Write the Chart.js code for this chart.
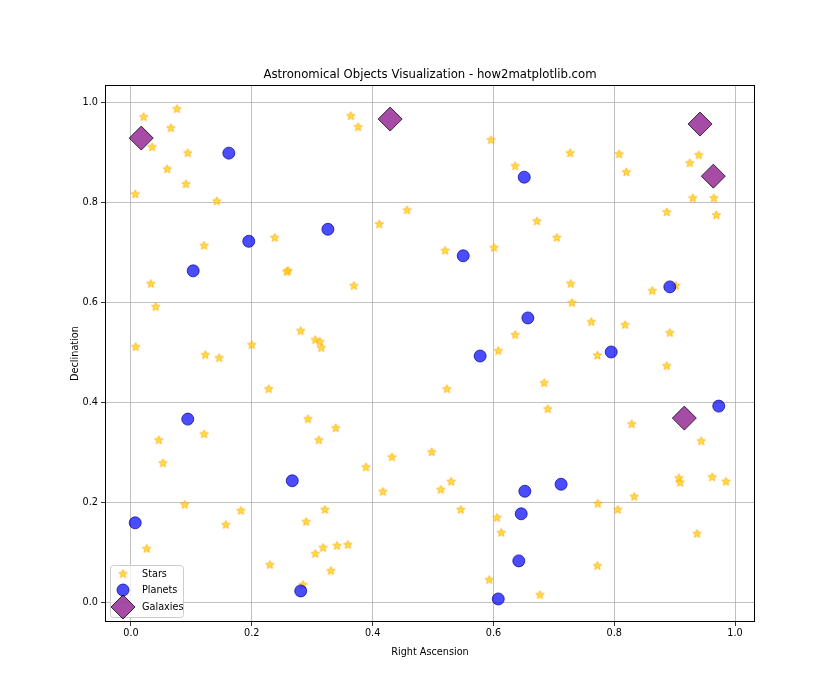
<!DOCTYPE html>
<html>
<head>
<meta charset="utf-8">
<script src="https://cdn.jsdelivr.net/npm/chart.js@4"></script>
<style>
  body { margin: 0; background: #fff; }
  #wrap { width: 840px; height: 700px; }
</style>
</head>
<body>
<div id="wrap"><canvas id="skyChart" width="840" height="700"></canvas></div>
<script>
// data
let starRA = [0.021,0.076,0.035,0.066,0.094,0.007,0.060,0.091,0.142,0.121,0.238,0.033,0.041,0.260,0.258,0.008,0.123,0.146,0.200,0.281,
  0.305,0.313,0.315,0.228,0.046,0.053,0.121,0.293,0.311,0.339,0.089,0.182,0.157,0.290,0.321,0.026,0.230,0.305,0.318,0.341,
  0.359,0.331,0.285,0.364,0.376,0.411,0.457,0.369,0.389,0.417,0.432,0.498,0.513,0.530,0.546,0.523,0.520,0.596,0.601,0.636,
  0.672,0.705,0.727,0.608,0.636,0.684,0.690,0.728,0.730,0.762,0.772,0.606,0.613,0.593,0.677,0.772,0.773,0.806,0.833,0.829,
  0.808,0.820,0.818,0.863,0.902,0.887,0.925,0.940,0.930,0.965,0.969,0.892,0.887,0.944,0.907,0.909,0.962,0.985,0.937]
let starDec = [0.970,0.986,0.910,0.948,0.898,0.816,0.866,0.836,0.802,0.713,0.729,0.637,0.591,0.663,0.661,0.511,0.495,0.489,0.515,0.543,
  0.525,0.521,0.509,0.427,0.325,0.279,0.337,0.367,0.325,0.349,0.196,0.184,0.156,0.162,0.186,0.108,0.076,0.098,0.110,0.114,
  0.116,0.064,0.036,0.972,0.950,0.756,0.784,0.633,0.271,0.222,0.291,0.301,0.226,0.242,0.186,0.427,0.703,0.924,0.709,0.872,
  0.762,0.729,0.898,0.503,0.535,0.439,0.387,0.637,0.599,0.561,0.494,0.170,0.140,0.046,0.016,0.074,0.198,0.186,0.212,0.357,
  0.896,0.860,0.555,0.623,0.633,0.780,0.878,0.894,0.808,0.808,0.774,0.539,0.473,0.323,0.249,0.240,0.251,0.242,0.138]

let planetRA = [0.162,0.195,0.103,0.326,0.550,0.651,0.657,0.578,0.795,0.892,0.973,0.712,0.652,0.646,0.642,0.608,0.094,0.267,0.007,0.281]
let planetDec = [0.898,0.722,0.663,0.746,0.693,0.850,0.569,0.493,0.501,0.631,0.393,0.237,0.223,0.178,0.084,0.008,0.367,0.244,0.160,0.024]

let galaxyRA = [0.017,0.429,0.942,0.964,0.916]
let galaxyDec = [0.928,0.966,0.956,0.852,0.369]

let tickValues = [0, 0.2, 0.4, 0.6, 0.8, 1.0]

function toPoints(xs, ys) {
  return xs.map((x, i) => ({x: x, y: ys[i]}))
}

// filled five point star, like matplotlib's "*"
function makeStar(size) {
  let c = document.createElement("canvas")
  c.width = size
  c.height = size
  let ctx = c.getContext("2d")
  let cx = size / 2, cy = size / 2, outer = size / 2 - 1, inner = outer * 0.42
  ctx.beginPath()
  for (let i = 0; i < 10; i++) {
    let r = i % 2 === 0 ? outer : inner
    let a = -Math.PI / 2 + i * Math.PI / 5
    ctx.lineTo(cx + r * Math.cos(a), cy + r * Math.sin(a))
  }
  ctx.closePath()
  ctx.fillStyle = "rgba(255,215,0,0.75)"
  ctx.fill()
  ctx.lineWidth = 0.8
  ctx.strokeStyle = "rgba(255,165,0,0.9)"
  ctx.stroke()
  return c
}
let starImg = makeStar(11)

let font = "'DejaVu Sans', sans-serif"

let framePlugin = {
  id: "frame",
  afterDraw(chart) {
    let ctx = chart.ctx
    let a = chart.chartArea
    ctx.save()
    // box round the axes
    ctx.strokeStyle = "#000"
    ctx.lineWidth = 1
    ctx.strokeRect(a.left + 0.5, a.top + 0.5, a.right - a.left - 1, a.bottom - a.top - 1)

    // title and axis labels
    ctx.fillStyle = "#000"
    ctx.font = "11.7px " + font
    ctx.textAlign = "center"
    ctx.textBaseline = "alphabetic"
    ctx.fillText("Astronomical Objects Visualization - how2matplotlib.com", (a.left + a.right) / 2, 78)

    ctx.font = "9.7px " + font
    ctx.textBaseline = "middle"
    ctx.fillText("Right Ascension", (a.left + a.right) / 2, 652)
    ctx.save()
    ctx.translate(75, (a.top + a.bottom) / 2)
    ctx.rotate(-Math.PI / 2)
    ctx.fillText("Declination", 0, 0)
    ctx.restore()

    // legend, lower left inside the axes
    let lx = a.left + 5, ly = a.bottom - 57, lw = 73, lh = 52
    ctx.fillStyle = "rgba(255,255,255,0.8)"
    ctx.strokeStyle = "#cccccc"
    ctx.beginPath()
    ctx.roundRect(lx + 0.5, ly + 0.5, lw, lh, 3)
    ctx.fill()
    ctx.stroke()

    let mx = lx + 13
    ctx.drawImage(starImg, mx - 5.5, ly + 9 - 5.5)

    ctx.beginPath()
    ctx.arc(mx, ly + 25, 6, 0, Math.PI * 2)
    ctx.fillStyle = "rgba(0,0,255,0.7)"
    ctx.fill()
    ctx.strokeStyle = "rgba(0,0,139,0.7)"
    ctx.stroke()

    let gy = ly + 42
    ctx.beginPath()
    ctx.moveTo(mx, gy - 12)
    ctx.lineTo(mx + 12, gy)
    ctx.lineTo(mx, gy + 12)
    ctx.lineTo(mx - 12, gy)
    ctx.closePath()
    ctx.fillStyle = "rgba(128,0,128,0.7)"
    ctx.fill()
    ctx.strokeStyle = "rgba(0,0,0,0.75)"
    ctx.stroke()

    ctx.fillStyle = "#000"
    ctx.textAlign = "left"
    ctx.fillText("Stars", lx + 32, ly + 9)
    ctx.fillText("Planets", lx + 32, ly + 25)
    ctx.fillText("Galaxies", lx + 32, gy)
    ctx.restore()
  }
}

function setTicks(scale) {
  scale.ticks = tickValues.map(v => ({value: v}))
}

let canvasElement = document.getElementById("skyChart")
let config = {
  type: "scatter",
  data: {
    datasets: [
      {
        label: "Stars",
        data: toPoints(starRA, starDec),
        pointStyle: starImg,
        order: 3,
      },
      {
        label: "Planets",
        data: toPoints(planetRA, planetDec),
        pointStyle: "circle",
        pointRadius: 6,
        backgroundColor: "rgba(0,0,255,0.7)",
        borderColor: "rgba(0,0,139,0.7)",
        borderWidth: 1,
        order: 2,
      },
      {
        label: "Galaxies",
        data: toPoints(galaxyRA, galaxyDec),
        pointStyle: "rectRot",
        pointRadius: 12,
        backgroundColor: "rgba(128,0,128,0.7)",
        borderColor: "rgba(0,0,0,0.75)",
        borderWidth: 1,
        order: 1,
      },
    ],
  },
  options: {
    responsive: false,
    animation: false,
    layout: {padding: {left: 0, right: 85, top: 85, bottom: 0}},
    plugins: {
      legend: {display: false},
      tooltip: {enabled: false},
      title: {display: false},
    },
    scales: {
      x: {
        type: "linear",
        min: -0.043,
        max: 1.033,
        afterBuildTicks: setTicks,
        afterFit(scale) { scale.height = 78 },
        grid: {color: "#b0b0b0", tickColor: "#000", tickLength: 4, lineWidth: 0.8},
        border: {display: false},
        ticks: {
          color: "#000",
          font: {family: font, size: 9.7},
          padding: 2,
          maxRotation: 0,
          callback: v => v.toFixed(1),
        },
      },
      y: {
        type: "linear",
        min: -0.038,
        max: 1.034,
        afterBuildTicks: setTicks,
        afterFit(scale) { scale.width = 105 },
        grid: {color: "#b0b0b0", tickColor: "#000", tickLength: 4, lineWidth: 0.8},
        border: {display: false},
        ticks: {
          color: "#000",
          font: {family: font, size: 9.7},
          padding: 3,
          callback: v => v.toFixed(1),
        },
      },
    },
  },
  plugins: [framePlugin],
}
let skyChart = new Chart(canvasElement, config)
</script>
</body>
</html>
